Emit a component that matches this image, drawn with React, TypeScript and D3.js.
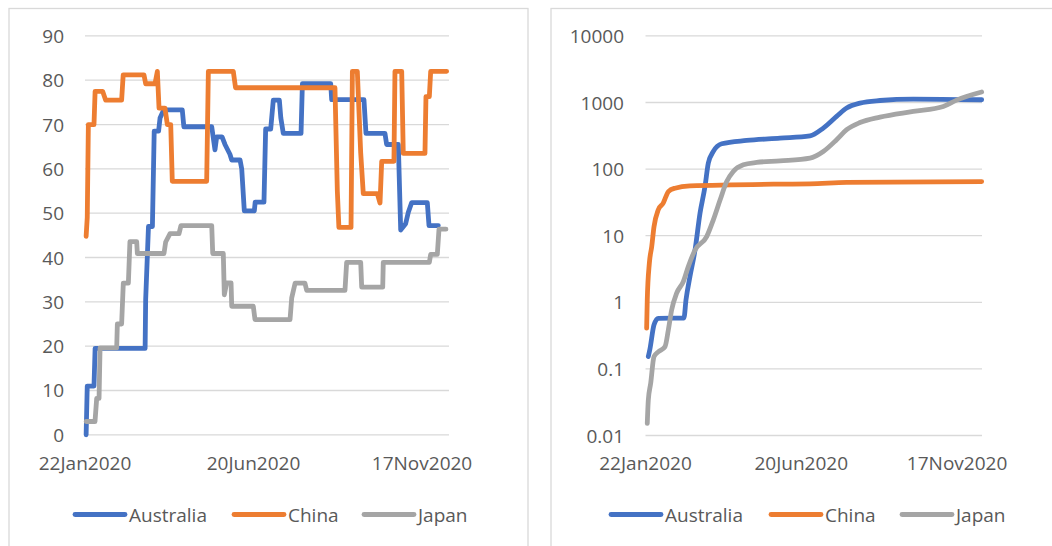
import React from "react";
import * as d3 from "d3";

// ---------- data ----------
const xTickDays = [0, 150, 300];
const xTickLabels = ["22Jan2020", "20Jun2020", "17Nov2020"];
const seriesNames = ["Australia", "China", "Japan"];
const seriesColors = ["#4472C4", "#ED7D31", "#A5A5A5"];

const leftYTicks = [0, 10, 20, 30, 40, 50, 60, 70, 80, 90];
const rightYTicks = [0.01, 0.1, 1, 10, 100, 1000, 10000];
const rightYLabels = ["0.01", "0.1", "1", "10", "100", "1000", "10000"];

// [day index since 22Jan2020, value]
const australiaLeft: [number, number][] = [
  [1, 0], [2, 11], [8, 11], [9, 19.5], [53.5, 19.5], [54, 30.5], [56.5, 47], [60, 47],
  [61.6, 68.5], [65.5, 68.5], [66.8, 71.5], [70, 73.3], [86.6, 73.3], [88, 69.5],
  [112.8, 69.5], [115.7, 64.3], [117.2, 67.2], [122, 67.2], [124.6, 65.5], [129, 63.3],
  [130.6, 62], [138, 62], [139.5, 60], [141.8, 50.5], [150.7, 50.5], [151.5, 52.5],
  [159.3, 52.5], [160.8, 69], [165.3, 69], [167.6, 75.5], [173, 75.5], [174.3, 71.5],
  [176.5, 68], [192.3, 68], [193.5, 79.2], [218.7, 79.2], [219.6, 75.6], [248.3, 75.6],
  [250.1, 68], [267, 68], [268.5, 65.5], [278.9, 65.5], [281, 46.2], [285.4, 47.6],
  [287.8, 50.2], [290.8, 52.4], [304.7, 52.4], [306.2, 47.2], [314.5, 47.2],
];
const chinaLeft: [number, number][] = [
  [1, 44.8], [2, 49], [3, 70], [8, 70], [9, 77.5], [15.7, 77.5], [18.4, 75.5], [32.6, 75.5],
  [34, 81.2], [52.5, 81.2], [54, 79.2], [62.3, 79.2], [64.4, 82], [65.9, 73.7], [71.2, 73.7],
  [73.3, 70], [76.3, 70], [77.7, 57.2], [108.3, 57.2], [109.8, 82], [132, 82], [134, 78.3],
  [222.5, 78.3], [224.6, 55], [226, 46.8], [236.8, 46.8], [238, 82], [242.4, 82],
  [245.4, 63.6], [247.7, 54.4], [260.2, 54.4], [262.6, 52.3], [264.1, 61.7], [275, 61.7],
  [275.9, 82], [281.9, 82], [283.3, 63.5], [302.6, 63.5], [303.5, 76.3], [306.5, 76.3],
  [307.7, 82], [321.9, 82],
];
const japanLeft: [number, number][] = [
  [1, 3], [8.9, 3], [10.4, 8.2], [12.5, 8.2], [13.4, 19.6], [28.2, 19.6], [28.8, 25],
  [32.6, 25], [34.1, 34.2], [38.6, 34.2], [40, 43.6], [46, 43.6], [46.6, 40.9], [70.3, 40.9],
  [71.8, 43.5], [75.7, 45.4], [83.7, 45.4], [85.4, 47.2], [112.8, 47.2], [113.7, 40.9],
  [123.1, 40.9], [124, 31.6], [126.1, 34.3], [130, 34.3], [130.6, 29], [149.8, 29],
  [151.3, 26], [182.5, 26], [184, 30.9], [187, 34.2], [195.8, 34.2], [197.3, 32.6],
  [231.4, 32.6], [232.9, 38.9], [245.4, 38.9], [246.3, 33.3], [265, 33.3], [265.5, 38.9],
  [306.5, 38.9], [307.7, 40.7], [313.6, 40.7], [315.1, 46.4], [321.3, 46.4],
];

const australiaRight: [number, number][] = [
  [2.7, 0.153], [4.3, 0.2], [8.2, 0.46], [12.3, 0.575], [37, 0.58], [39, 1.09], [42.8, 2.43],
  [47.7, 6.1], [52.5, 21.8], [57.3, 55], [60.5, 123], [65.3, 184], [73.4, 240], [97.4, 269],
  [129.5, 292], [158.4, 316], [171.2, 413], [184, 618], [193.7, 826], [206.5, 980],
  [225.8, 1072], [257.8, 1127], [323.7, 1100],
];
const chinaRight: [number, number][] = [
  [1.1, 0.41], [1.7, 1.09], [3.7, 3.86], [6, 6.9], [8.2, 13.7], [12.3, 24.5], [17.1, 31],
  [19.7, 38.7], [22, 46], [28.4, 51.7], [42.8, 56], [129.5, 59.5], [158.4, 60], [193.7, 63],
  [323.7, 65],
];
const japanRight: [number, number][] = [
  [1.7, 0.0152], [2.7, 0.034], [5, 0.061], [8.2, 0.153], [12.3, 0.18], [18.8, 0.216],
  [22, 0.385], [25.2, 0.77], [30, 1.37], [36.4, 2.05], [41.2, 3.44], [47.7, 6.1],
  [58.9, 9.7], [65.3, 17.3], [71.7, 34], [78.2, 65], [84.5, 92], [94.2, 116], [107, 126],
  [129.5, 133], [158.4, 146], [171.2, 184], [184, 276], [193.7, 390], [206.5, 500],
  [225.8, 604], [257.8, 735], [286.7, 872], [299.6, 1087], [323.7, 1435],
];

const leftSeries = [australiaLeft, chinaLeft, japanLeft];
const rightSeries = [australiaRight, chinaRight, japanRight];

// ---------- style ----------
const FONT = "'Open Sans', 'Liberation Sans', sans-serif";
const TEXT = "#595959";
const GRID = "#D9D9D9";
const FS = 19;
const LW = 4.8;

function Legend({ xs }: { xs: number[] }) {
  const y = 514.5;
  return (
    <g>
      {seriesNames.map((n, i) => (
        <g key={n}>
          <line x1={xs[i]} x2={xs[i] + 50} y1={y} y2={y} stroke={seriesColors[i]}
            strokeWidth={LW} strokeLinecap="round" />
          <text x={xs[i] + 54} y={y} dominantBaseline="central" fontSize={FS}
            fontFamily={FONT} fill={TEXT}>{n}</text>
        </g>
      ))}
    </g>
  );
}

export default function App() {
  // left panel scales
  const xL = d3.scaleLinear().domain([0, 324]).range([85, 449]);
  const yL = d3.scaleLinear().domain([0, 90]).range([434.8, 35.9]);
  const lineL = d3.line<[number, number]>().x((d) => xL(d[0])).y((d) => yL(d[1]));

  // right panel scales
  const xR = d3.scaleLinear().domain([0, 324]).range([645.5, 982]);
  const yR = d3.scaleLog().domain([0.01, 10000]).range([435.5, 35.9]);
  const lineR = d3.line<[number, number]>().x((d) => xR(d[0])).y((d) => yR(d[1]))
    .curve(d3.curveMonotoneX);

  return (
    <svg width={1052} height={546} style={{ position: "absolute", left: 0, top: 0, background: "#fff" }}>
      <rect x={0} y={0} width={1052} height={546} fill="#fff" />
      {/* panel borders */}
      <rect x={9} y={8.5} width={519} height={560} fill="none" stroke={GRID} strokeWidth={1.3} />
      <rect x={551} y={8.5} width={540} height={560} fill="none" stroke={GRID} strokeWidth={1.3} />

      {/* left grid + y labels */}
      {leftYTicks.map((t) => (
        <g key={"l" + t}>
          <line x1={xL(0)} x2={xL(324)} y1={yL(t)} y2={yL(t)} stroke={GRID} strokeWidth={1.3} />
          <text x={64} y={yL(t)} textAnchor="end" dominantBaseline="central" fontSize={FS}
            fontFamily={FONT} fill={TEXT}>{t}</text>
        </g>
      ))}
      {xTickDays.map((d, i) => (
        <text key={"lx" + d} x={xL(d)} y={463} textAnchor="middle" dominantBaseline="central"
          fontSize={FS} fontFamily={FONT} fill={TEXT}>{xTickLabels[i]}</text>
      ))}
      {leftSeries.map((s, i) => (
        <path key={"ls" + i} d={lineL(s) || ""} fill="none" stroke={seriesColors[i]}
          strokeWidth={LW} strokeLinejoin="round" strokeLinecap="round" />
      ))}
      <Legend xs={[75, 234, 364]} />

      {/* right grid + y labels */}
      {rightYTicks.map((t, i) => (
        <g key={"r" + t}>
          <line x1={xR(0)} x2={xR(324)} y1={yR(t)} y2={yR(t)} stroke={GRID} strokeWidth={1.3} />
          <text x={624} y={yR(t)} textAnchor="end" dominantBaseline="central" fontSize={FS}
            fontFamily={FONT} fill={TEXT}>{rightYLabels[i]}</text>
        </g>
      ))}
      {xTickDays.map((d, i) => (
        <text key={"rx" + d} x={xR(d)} y={463} textAnchor="middle" dominantBaseline="central"
          fontSize={FS} fontFamily={FONT} fill={TEXT}>{xTickLabels[i]}</text>
      ))}
      {rightSeries.map((s, i) => (
        <path key={"rs" + i} d={lineR(s) || ""} fill="none" stroke={seriesColors[i]}
          strokeWidth={LW} strokeLinejoin="round" strokeLinecap="round" />
      ))}
      <Legend xs={[611, 771, 902]} />
    </svg>
  );
}
